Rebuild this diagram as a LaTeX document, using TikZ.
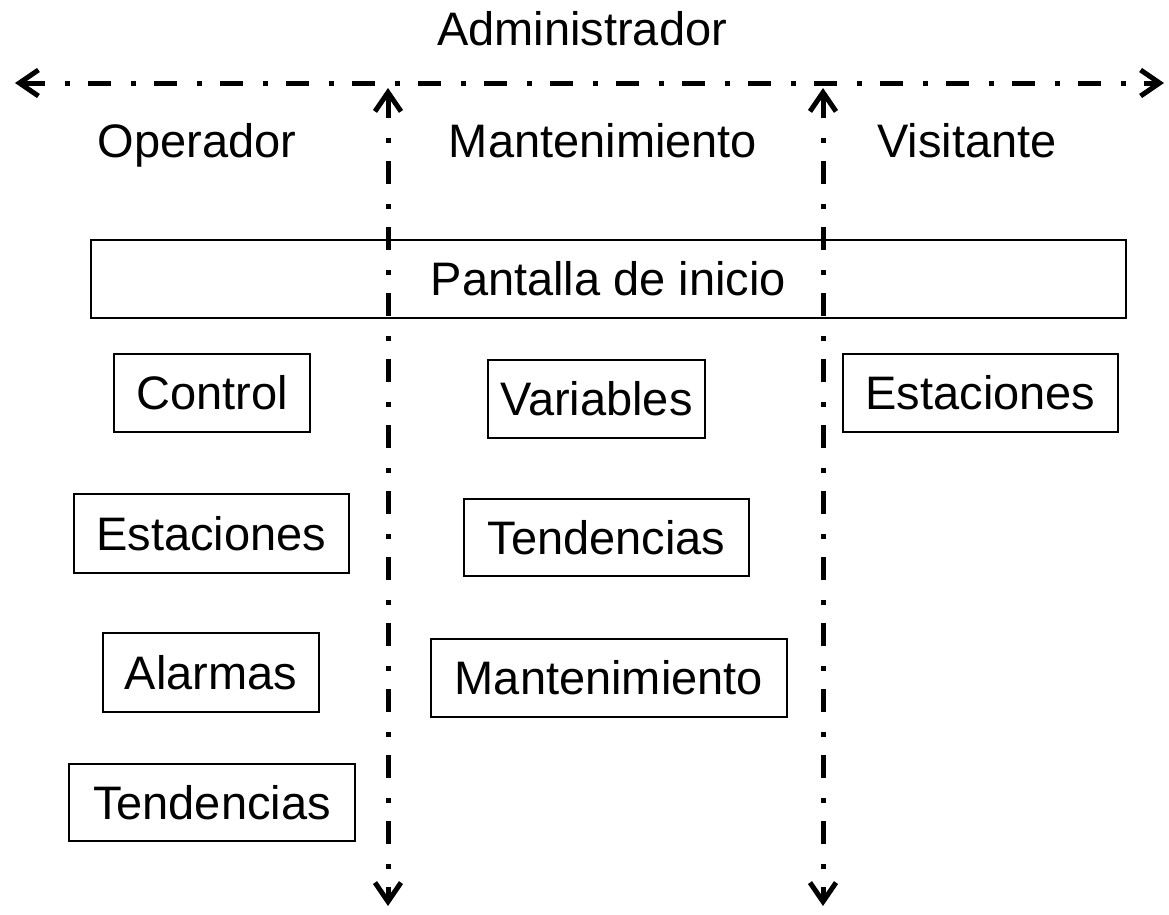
\documentclass[tikz,border=0pt]{standalone}
\usepackage{fontspec}
\setmainfont{Liberation Sans}
\usetikzlibrary{arrows.meta}
\begin{document}
\begin{tikzpicture}[x=1pt,y=-1pt,
  lbl/.style={font=\fontsize{47}{50}\selectfont, inner sep=0pt, anchor=base},
  box/.style={draw, line width=1.8pt, font=\fontsize{47}{50}\selectfont, inner sep=0pt, anchor=north west},
  divider/.style={line width=5pt, dash pattern=on 23pt off 20pt on 5pt off 18pt,
    {Straight Barb[length=19pt,width=26pt,line width=5pt]}-{Straight Barb[length=19pt,width=26pt,line width=5pt]}}]
\useasboundingbox (0,0) rectangle (1169,914);
% labels
\node[lbl] (adm) at (582,45) {Administrador};
\node[lbl] (op) at (197,157) {Operador};
\node[lbl] (mt) at (603,157) {Mantenimiento};
\node[lbl] (vi) at (967,157) {Visitante};
% boxes
\node[box, minimum width=1035pt, minimum height=78pt] (inicio) at (90,239) {Pantalla de inicio};
\node[box, minimum width=196pt, minimum height=78pt] (control) at (113,353) {Control};
\node[box, minimum width=275pt, minimum height=79pt] (est1) at (73,493) {Estaciones};
\node[box, minimum width=216pt, minimum height=79pt] (alarm) at (102,632) {Alarmas};
\node[box, minimum width=286pt, minimum height=77pt] (tend1) at (68,763) {Tendencias};
\node[box, minimum width=217pt, minimum height=78pt] (var) at (487,359) {Variables};
\node[box, minimum width=285pt, minimum height=77pt] (tend2) at (463,498) {Tendencias};
\node[box, minimum width=356pt, minimum height=78pt] (mant) at (430,638) {Mantenimiento};
\node[box, minimum width=275pt, minimum height=78pt] (est2) at (842,353) {Estaciones};
% dividers
\coordinate (hl) at (15,83);
\coordinate (hr) at (1164,83);
\coordinate (v1t) at (388,88);
\coordinate (v1b) at (388,906);
\coordinate (v2t) at (823,88);
\coordinate (v2b) at (823,906);
\draw[divider] (hl) -- (hr);
\draw[divider] (v1t) -- (v1b);
\draw[divider] (v2t) -- (v2b);
\end{tikzpicture}
\end{document}
